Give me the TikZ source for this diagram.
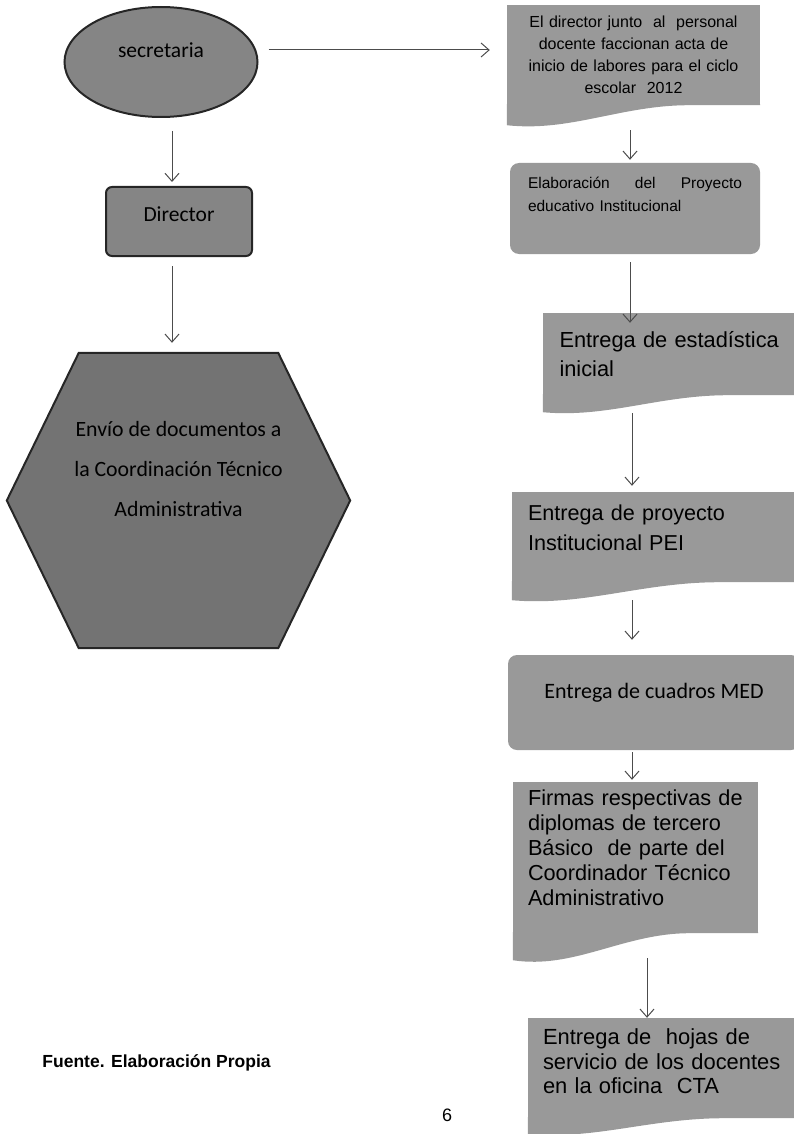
\documentclass[tikz,border=0pt]{standalone}
\usepackage{fontspec}
\setmainfont{Liberation Sans}
\newfontfamily\calibri{Carlito}
\usetikzlibrary{arrows.meta,shapes.geometric,calc,backgrounds}

\definecolor{gris}{gray}{0.60}
\definecolor{grismed}{gray}{0.52}
\definecolor{grisosc}{gray}{0.45}

% wavy bottom of a document node
\newcommand{\onda}[2]{%
  \fill[gris] ($(#1.south east)+(0,-1)$) -- ($(#1.south west)+(0,-1)$) -- ++(0,#2+1)
    .. controls ($(#1.south west)!0.25!(#1.south east)+(0,1.35*#2)$)
           and ($(#1.south west)!0.45!(#1.south east)$)
    .. ($(#1.south west)!0.72!(#1.south east)$) -- (#1.south east) -- cycle;}

\hyphenpenalty=10000
\tolerance=10000

\begin{document}
\begin{tikzpicture}[x=1pt,y=-1pt,
    flecha/.style={draw=black!70,line width=1pt,-{Straight Barb[length=8pt,width=14pt]}},
    terminal/.style={ellipse,draw=black!85,line width=2pt,fill=grismed},
    proceso/.style={rectangle,rounded corners=6pt,draw=black!85,line width=2pt,fill=grismed},
    caja/.style={rectangle,rounded corners=9pt,fill=gris},
    documento/.style={rectangle,fill=gris,align=left}]

  \useasboundingbox (0,0) rectangle (794,1134);

  % left column
  \node[terminal,minimum width=193pt,minimum height=110pt,text height=13pt,text depth=21pt,
        font=\calibri\fontsize{21.5}{26}\selectfont] (A) at (161,62) {secretaria};
  \node[proceso,minimum width=146pt,minimum height=69pt,text height=14pt,text depth=15pt,
        font=\calibri\fontsize{21.5}{26}\selectfont] (B) at (179,221.5) {Director};
  \node[minimum width=343pt,minimum height=295pt,align=center,text depth=63pt,
        font=\calibri\fontsize{21.8}{40}\selectfont] (C) at (178.5,500.5)
        {Envío de documentos a\\la Coordinación Técnico\\Administrativa};
  \begin{scope}[on background layer]
    \draw[line width=2pt,draw=black!85,fill=grisosc] (C.west) -- ([xshift=72pt]C.north west)
      -- ([xshift=-72pt]C.north east) -- (C.east) -- ([xshift=-72pt]C.south east)
      -- ([xshift=72pt]C.south west) -- cycle;
  \end{scope}

  % right column
  \node[documento,minimum width=253pt,minimum height=100pt,text width=236pt,align=center,
        font=\fontsize{16}{22}\selectfont] (D) at (633.5,55)
        {El director junto\ \ al\ \ personal\\docente faccionan acta de\\inicio de labores para el ciclo\\escolar\ \ 2012};
  \node[caja,minimum width=250pt,minimum height=91pt,text width=214pt,align=left,text depth=52pt,
        font=\fontsize{15.5}{23}\selectfont] (E) at (635,208.5)
        {Elaboración\hfill del\hfill Proyecto\\educativo Institucional};
  \node[documento,minimum width=257pt,minimum height=82pt,text width=224pt,
        font=\fontsize{21.8}{29}\selectfont] (F) at (671.5,354)
        {Entrega de estadística\\inicial};
  \node[documento,minimum width=288pt,minimum height=90pt,text width=256pt,text depth=49pt,
        font=\fontsize{21.6}{30}\selectfont] (G) at (656,537)
        {Entrega de proyecto\\Institucional PEI};
  \node[caja,minimum width=292pt,minimum height=95pt,text height=16.5pt,text depth=25pt,
        font=\calibri\fontsize{22}{26}\selectfont] (H) at (654,702.5) {Entrega de cuadros MED};
  \node[documento,minimum width=245pt,minimum height=151pt,text width=215pt,text depth=120pt,
        font=\fontsize{21.7}{25}\selectfont] (I) at (635.5,857.5)
        {Firmas respectivas de\\diplomas de tercero\\Básico\ \ de parte del\\Coordinador Técnico\\Administrativo};
  \node[documento,minimum width=272pt,minimum height=100pt,text width=242pt,text depth=62pt,
        font=\fontsize{21.9}{24.5}\selectfont] (J) at (664,1068)
        {Entrega de\ \ hojas de\\servicio de los docentes\\en la oficina\ \ CTA};

  \onda{D}{20}
  \onda{F}{17}
  \onda{G}{18}
  \onda{I}{27}
  \onda{J}{16}

  \node[font=\bfseries\fontsize{17.5}{20}\selectfont] (K) at (156.5,1063) {Fuente. Elaboración Propia};
  \node[font=\fontsize{18}{20}\selectfont] (L) at (447,1115) {6};

  % connectors
  \draw[flecha,shorten <=10pt,shorten >=17pt] ([yshift=12pt]A.east) -- ([yshift=5pt]D.west);
  \draw[flecha,shorten <=13pt,shorten >=4pt] ([xshift=11pt]A.south) -- ([xshift=-7pt]B.north);
  \draw[flecha,shorten <=9pt,shorten >=10pt] ([xshift=-7pt]B.south) -- ([xshift=-6.5pt]C.north);
  \draw[flecha,shorten <=25pt,shorten >=3pt] ([xshift=-3.5pt]D.south) -- ([xshift=-5pt]E.north);
  \draw[flecha,shorten <=8pt,shorten >=-10pt] ([xshift=-5pt]E.south) -- ([xshift=-41.5pt]F.north);
  \draw[flecha,shorten <=18pt,shorten >=6pt] ([xshift=-39.5pt]F.south) -- ([xshift=-24pt]G.north);
  \draw[flecha,shorten <=18pt,shorten >=15pt] ([xshift=-24pt]G.south) -- ([xshift=-22pt]H.north);
  \draw[flecha,shorten <=2pt,shorten >=2pt] ([xshift=-22pt]H.south) -- ([xshift=-3.5pt]I.north);
  \draw[flecha,shorten <=25pt,shorten >=0pt] ([xshift=11.5pt]I.south) -- ([xshift=-17pt]J.north);

\end{tikzpicture}
\end{document}
